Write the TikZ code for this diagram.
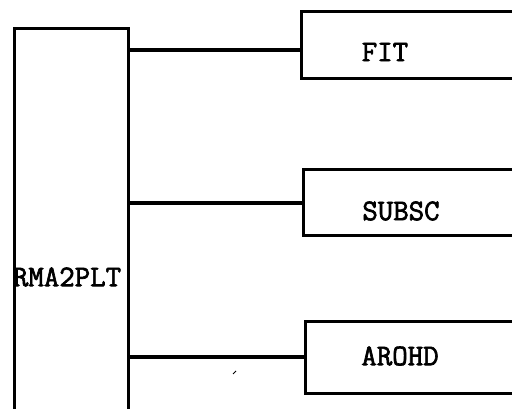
\documentclass[tikz,border=0pt]{standalone}
\usepackage{fontspec}
\newfontfamily\typew{Latin Modern Mono}[FakeBold=2.2]
\begin{document}
\begin{tikzpicture}[x=1pt,y=-1pt,
  box/.style={draw=black,line width=3.4pt,inner sep=0pt,anchor=north west},
  conn/.style={draw=black,line width=3.2pt},
  lbl/.style={font=\typew\fontsize{30}{32}\selectfont,inner sep=0pt}]
\useasboundingbox (0,0) rectangle (512,409);
\node[box,minimum width=114pt,minimum height=420pt] (main) at (13,27) {};
\node[box,minimum width=240pt,minimum height=67pt] (fit) at (300,10) {};
\node[box,minimum width=240pt,minimum height=66pt] (subsc) at (302,168) {};
\node[box,minimum width=240pt,minimum height=72pt] (arohd) at (304,320) {};
\node[lbl] (tmain) at (67,277) {RMA2PLT};
\node[lbl] (tfit) at (385,52) {FIT};
\node[lbl] (tsubsc) at (401,211) {SUBSC};
\node[lbl] (tarohd) at (400,356) {AROHD};
\coordinate (c1) at (0,50);
\coordinate (c2) at (0,203);
\coordinate (c3) at (0,357);
\draw[conn] (main.east |- c1) -- (fit.west |- c1);
\draw[conn] (main.east |- c2) -- (subsc.west |- c2);
\draw[conn] (main.east |- c3) -- (arohd.west |- c3);
\coordinate (m1) at (233,374);
\coordinate (m2) at (236,371);
\draw[line width=0.9pt] (m1) -- (m2);
\end{tikzpicture}
\end{document}
